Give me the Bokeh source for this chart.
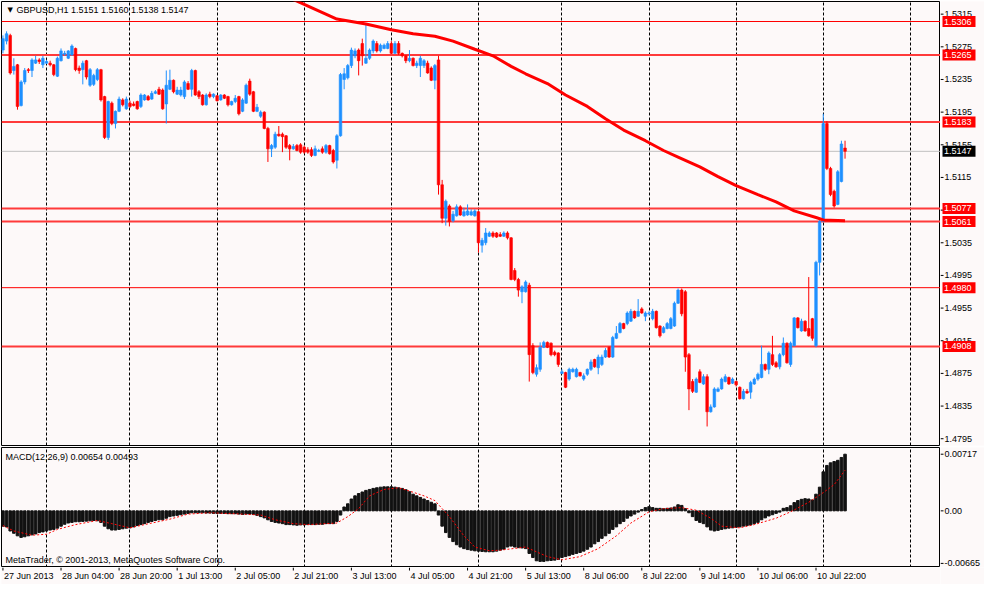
from bokeh.plotting import figure
from bokeh.layouts import column, row
from bokeh.models import ColumnDataSource, FixedTicker, Span, Range1d, Grid, Label
from bokeh.core.properties import value
from bokeh.embed import file_html
from bokeh.resources import INLINE

FONT = "Liberation Sans"
BG = "#FDF9F9"

# ---------------- data (GBPUSD H1) ----------------
opens = [
 1.5271, 1.5282, 1.5289, 1.5246, 1.5253, 1.5203, 1.5232, 1.5247, 1.5246, 1.5255,
 1.5259, 1.5253, 1.5255, 1.5255, 1.5253, 1.5239, 1.5258, 1.5266, 1.5261, 1.5265,
 1.5273, 1.5249, 1.5247, 1.5258, 1.5228, 1.5229, 1.5235, 1.5247, 1.5214, 1.5164,
 1.5206, 1.5181, 1.5196, 1.5210, 1.5199, 1.5206, 1.5205, 1.5208, 1.5202, 1.5210,
 1.5214, 1.5211, 1.5218, 1.5223, 1.5222, 1.5205, 1.5223, 1.5234, 1.5217, 1.5216,
 1.5214, 1.5230, 1.5223, 1.5246, 1.5220, 1.5216, 1.5204, 1.5217, 1.5214, 1.5215,
 1.5210, 1.5216, 1.5214, 1.5204, 1.5208, 1.5214, 1.5196, 1.5206, 1.5233, 1.5220,
 1.5196, 1.5190, 1.5195, 1.5175, 1.5150, 1.5152, 1.5168, 1.5168, 1.5166, 1.5154,
 1.5150, 1.5154, 1.5155, 1.5152, 1.5149, 1.5149, 1.5142, 1.5147, 1.5150, 1.5146,
 1.5154, 1.5148, 1.5136, 1.5166, 1.5235, 1.5237, 1.5252, 1.5264, 1.5271, 1.5279,
 1.5255, 1.5261, 1.5270, 1.5279, 1.5270, 1.5273, 1.5273, 1.5279, 1.5267, 1.5279,
 1.5267, 1.5264, 1.5258, 1.5261, 1.5252, 1.5252, 1.5252, 1.5255, 1.5249, 1.5234,
 1.5259, 1.5106, 1.5065, 1.5080, 1.5062, 1.5068, 1.5079, 1.5068, 1.5069, 1.5069,
 1.5068, 1.5073, 1.5032, 1.5035, 1.5043, 1.5047, 1.5047, 1.5045, 1.5043, 1.5047,
 1.5041, 1.5001, 1.4990, 1.4975, 1.4975, 1.4983, 1.4909, 1.4874, 1.4880, 1.4907,
 1.4913, 1.4912, 1.4901, 1.4900, 1.4875, 1.4876, 1.4868, 1.4877, 1.4871, 1.4876,
 1.4868, 1.4874, 1.4880, 1.4892, 1.4882, 1.4886, 1.4895, 1.4907, 1.4895, 1.4918,
 1.4925, 1.4936, 1.4936, 1.4939, 1.4951, 1.4945, 1.4954, 1.4945, 1.4948, 1.4942,
 1.4951, 1.4933, 1.4925, 1.4930, 1.4930, 1.4933, 1.4961, 1.4977, 1.4975, 1.4898,
 1.4865, 1.4852, 1.4877, 1.4862, 1.4871, 1.4828, 1.4834, 1.4853, 1.4856, 1.4865,
 1.4870, 1.4863, 1.4865, 1.4858, 1.4844, 1.4853, 1.4852, 1.4862, 1.4868, 1.4870,
 1.4886, 1.4880, 1.4898, 1.4888, 1.4883, 1.4898, 1.4912, 1.4886, 1.4909, 1.4943,
 1.4927, 1.4939, 1.4930, 1.4942, 1.4909, 1.5011, 1.5061, 1.5181, 1.5126, 1.5098,
 1.5082, 1.5110, 1.5151]

highs = [
 1.5289, 1.5294, 1.5291, 1.5261, 1.5254, 1.5234, 1.5249, 1.5249, 1.5261, 1.5264,
 1.5261, 1.5264, 1.5259, 1.5258, 1.5254, 1.5263, 1.5273, 1.5270, 1.5271, 1.5278,
 1.5274, 1.5252, 1.5258, 1.5259, 1.5249, 1.5242, 1.5249, 1.5248, 1.5215, 1.5209,
 1.5208, 1.5197, 1.5214, 1.5212, 1.5214, 1.5209, 1.5208, 1.5209, 1.5218, 1.5217,
 1.5216, 1.5221, 1.5222, 1.5226, 1.5224, 1.5246, 1.5247, 1.5235, 1.5226, 1.5226,
 1.5234, 1.5233, 1.5248, 1.5247, 1.5222, 1.5217, 1.5218, 1.5220, 1.5218, 1.5216,
 1.5217, 1.5217, 1.5215, 1.5209, 1.5216, 1.5215, 1.5212, 1.5230, 1.5236, 1.5221,
 1.5205, 1.5197, 1.5196, 1.5177, 1.5156, 1.5171, 1.5178, 1.5170, 1.5167, 1.5156,
 1.5156, 1.5156, 1.5157, 1.5154, 1.5152, 1.5152, 1.5154, 1.5150, 1.5153, 1.5156,
 1.5155, 1.5150, 1.5168, 1.5243, 1.5249, 1.5254, 1.5274, 1.5273, 1.5273, 1.5285,
 1.5303, 1.5273, 1.5284, 1.5282, 1.5279, 1.5279, 1.5282, 1.5282, 1.5282, 1.5282,
 1.5268, 1.5265, 1.5271, 1.5262, 1.5258, 1.5264, 1.5260, 1.5258, 1.5251, 1.5254,
 1.5264, 1.5112, 1.5088, 1.5082, 1.5074, 1.5082, 1.5081, 1.5078, 1.5082, 1.5076,
 1.5076, 1.5074, 1.5041, 1.5053, 1.5049, 1.5049, 1.5048, 1.5048, 1.5049, 1.5049,
 1.5042, 1.5004, 1.4992, 1.4983, 1.4989, 1.4986, 1.4912, 1.4886, 1.4913, 1.4915,
 1.4914, 1.4913, 1.4903, 1.4901, 1.4880, 1.4877, 1.4882, 1.4882, 1.4882, 1.4877,
 1.4875, 1.4881, 1.4892, 1.4893, 1.4898, 1.4898, 1.4906, 1.4908, 1.4921, 1.4933,
 1.4938, 1.4937, 1.4951, 1.4954, 1.4952, 1.4966, 1.4956, 1.4951, 1.4951, 1.4954,
 1.4952, 1.4934, 1.4933, 1.4938, 1.4944, 1.4963, 1.4979, 1.4979, 1.4977, 1.4900,
 1.4868, 1.4870, 1.4880, 1.4874, 1.4874, 1.4837, 1.4858, 1.4858, 1.4870, 1.4874,
 1.4871, 1.4870, 1.4866, 1.4859, 1.4856, 1.4856, 1.4866, 1.4870, 1.4876, 1.4909,
 1.4887, 1.4902, 1.4921, 1.4890, 1.4900, 1.4919, 1.4913, 1.4914, 1.4944, 1.4944,
 1.4942, 1.4940, 1.4993, 1.4943, 1.5013, 1.5063, 1.5193, 1.5184, 1.5128, 1.5100,
 1.5124, 1.5160, 1.5160]

lows = [
 1.5267, 1.5278, 1.5241, 1.5241, 1.5198, 1.5202, 1.5229, 1.5243, 1.5238, 1.5254,
 1.5254, 1.5249, 1.5254, 1.5251, 1.5239, 1.5238, 1.5257, 1.5264, 1.5260, 1.5264,
 1.5245, 1.5242, 1.5229, 1.5235, 1.5226, 1.5227, 1.5233, 1.5208, 1.5162, 1.5161,
 1.5179, 1.5175, 1.5195, 1.5202, 1.5198, 1.5200, 1.5202, 1.5198, 1.5200, 1.5209,
 1.5209, 1.5210, 1.5217, 1.5216, 1.5198, 1.5181, 1.5222, 1.5218, 1.5216, 1.5214,
 1.5211, 1.5222, 1.5214, 1.5215, 1.5211, 1.5203, 1.5203, 1.5212, 1.5212, 1.5208,
 1.5209, 1.5211, 1.5202, 1.5203, 1.5206, 1.5191, 1.5195, 1.5205, 1.5215, 1.5195,
 1.5195, 1.5188, 1.5174, 1.5134, 1.5140, 1.5150, 1.5165, 1.5146, 1.5150, 1.5136,
 1.5149, 1.5147, 1.5144, 1.5144, 1.5144, 1.5140, 1.5141, 1.5146, 1.5144, 1.5144,
 1.5143, 1.5132, 1.5126, 1.5165, 1.5223, 1.5235, 1.5249, 1.5261, 1.5240, 1.5252,
 1.5254, 1.5259, 1.5267, 1.5268, 1.5268, 1.5272, 1.5272, 1.5266, 1.5266, 1.5265,
 1.5262, 1.5255, 1.5256, 1.5251, 1.5249, 1.5238, 1.5249, 1.5242, 1.5233, 1.5223,
 1.5094, 1.5059, 1.5056, 1.5055, 1.5060, 1.5067, 1.5068, 1.5067, 1.5068, 1.5068,
 1.5067, 1.5023, 1.5023, 1.5032, 1.5042, 1.5041, 1.5041, 1.5042, 1.5042, 1.5039,
 1.4989, 1.4988, 1.4969, 1.4961, 1.4974, 1.4865, 1.4874, 1.4871, 1.4877, 1.4906,
 1.4906, 1.4896, 1.4896, 1.4883, 1.4874, 1.4857, 1.4866, 1.4876, 1.4870, 1.4871,
 1.4866, 1.4872, 1.4878, 1.4882, 1.4874, 1.4884, 1.4894, 1.4894, 1.4894, 1.4917,
 1.4924, 1.4929, 1.4934, 1.4938, 1.4942, 1.4944, 1.4948, 1.4939, 1.4946, 1.4940,
 1.4930, 1.4919, 1.4924, 1.4929, 1.4929, 1.4932, 1.4960, 1.4945, 1.4877, 1.4830,
 1.4851, 1.4851, 1.4863, 1.4861, 1.4810, 1.4827, 1.4833, 1.4852, 1.4855, 1.4864,
 1.4861, 1.4862, 1.4859, 1.4843, 1.4843, 1.4850, 1.4844, 1.4861, 1.4866, 1.4869,
 1.4878, 1.4874, 1.4884, 1.4882, 1.4880, 1.4896, 1.4887, 1.4883, 1.4908, 1.4930,
 1.4926, 1.4926, 1.4920, 1.4915, 1.4907, 1.4995, 1.5060, 1.5124, 1.5092, 1.5078,
 1.5081, 1.5109, 1.5138]

closes = [
 1.5285, 1.5291, 1.5243, 1.5251, 1.5202, 1.5232, 1.5246, 1.5246, 1.5259, 1.5259,
 1.5257, 1.5261, 1.5257, 1.5253, 1.5241, 1.5261, 1.5270, 1.5267, 1.5270, 1.5276,
 1.5247, 1.5246, 1.5255, 1.5238, 1.5247, 1.5240, 1.5247, 1.5210, 1.5164, 1.5208,
 1.5181, 1.5196, 1.5211, 1.5204, 1.5211, 1.5202, 1.5203, 1.5199, 1.5216, 1.5216,
 1.5210, 1.5218, 1.5220, 1.5217, 1.5199, 1.5228, 1.5234, 1.5220, 1.5222, 1.5222,
 1.5232, 1.5223, 1.5246, 1.5216, 1.5214, 1.5204, 1.5216, 1.5214, 1.5217, 1.5209,
 1.5216, 1.5212, 1.5204, 1.5208, 1.5212, 1.5193, 1.5210, 1.5228, 1.5217, 1.5196,
 1.5201, 1.5195, 1.5175, 1.5150, 1.5154, 1.5168, 1.5166, 1.5165, 1.5152, 1.5150,
 1.5153, 1.5148, 1.5146, 1.5146, 1.5146, 1.5142, 1.5150, 1.5148, 1.5146, 1.5154,
 1.5144, 1.5134, 1.5166, 1.5241, 1.5242, 1.5252, 1.5271, 1.5270, 1.5258, 1.5264,
 1.5261, 1.5271, 1.5282, 1.5270, 1.5277, 1.5277, 1.5279, 1.5267, 1.5279, 1.5267,
 1.5264, 1.5258, 1.5261, 1.5252, 1.5255, 1.5261, 1.5258, 1.5243, 1.5234, 1.5252,
 1.5106, 1.5065, 1.5086, 1.5061, 1.5070, 1.5079, 1.5069, 1.5073, 1.5074, 1.5073,
 1.5074, 1.5035, 1.5038, 1.5047, 1.5047, 1.5043, 1.5042, 1.5043, 1.5047, 1.5041,
 1.4990, 1.4990, 1.4977, 1.4981, 1.4987, 1.4898, 1.4876, 1.4882, 1.4907, 1.4913,
 1.4907, 1.4898, 1.4898, 1.4886, 1.4877, 1.4858, 1.4880, 1.4880, 1.4880, 1.4872,
 1.4872, 1.4880, 1.4889, 1.4883, 1.4895, 1.4895, 1.4903, 1.4895, 1.4919, 1.4924,
 1.4936, 1.4930, 1.4949, 1.4951, 1.4943, 1.4951, 1.4949, 1.4949, 1.4949, 1.4951,
 1.4931, 1.4921, 1.4931, 1.4936, 1.4942, 1.4961, 1.4977, 1.4948, 1.4895, 1.4856,
 1.4853, 1.4868, 1.4864, 1.4871, 1.4828, 1.4834, 1.4856, 1.4856, 1.4868, 1.4871,
 1.4862, 1.4868, 1.4861, 1.4844, 1.4853, 1.4851, 1.4864, 1.4868, 1.4874, 1.4886,
 1.4880, 1.4900, 1.4886, 1.4883, 1.4898, 1.4912, 1.4888, 1.4912, 1.4943, 1.4931,
 1.4939, 1.4927, 1.4921, 1.4918, 1.5011, 1.5061, 1.5181, 1.5126, 1.5094, 1.5080,
 1.5122, 1.5156, 1.5147]

# moving average (red curve), read at a set of bars
ma_bars = [78, 81, 92, 100, 107, 113, 119, 124, 130, 135, 140, 144, 150, 155, 161,
           166, 171, 177, 182, 186, 192, 197, 202, 208, 213, 218, 224, 226, 232]
ma_vals = [1.5336, 1.5331, 1.5309, 1.5303, 1.5296, 1.5291, 1.5288, 1.5282, 1.5272,
           1.5264, 1.5251, 1.5242, 1.5230, 1.5216, 1.5202, 1.5187, 1.5173, 1.5160,
           1.5148, 1.5140, 1.5128, 1.5116, 1.5105, 1.5094, 1.5085, 1.5074, 1.5066,
           1.5063, 1.5062]

# MACD(12,26,9) main values (histogram), one per bar
macd_main = [
 -0.00194, -0.00203, -0.00255, -0.00284, -0.00316, -0.00336, -0.00328, -0.00316, -0.00304, -0.00292,
 -0.00275, -0.00267, -0.00255, -0.00243, -0.00235, -0.00219, -0.00194, -0.00170, -0.00154, -0.00146,
 -0.00138, -0.00138, -0.00134, -0.00130, -0.00126, -0.00122, -0.00126, -0.00146, -0.00194, -0.00227,
 -0.00243, -0.00243, -0.00235, -0.00227, -0.00219, -0.00215, -0.00203, -0.00186, -0.00174, -0.00162,
 -0.00146, -0.00134, -0.00122, -0.00113, -0.00113, -0.00093, -0.00073, -0.00065, -0.00057, -0.00049,
 -0.00041, -0.00032, -0.00024, -0.00024, -0.00024, -0.00024, -0.00028, -0.00028, -0.00032, -0.00032,
 -0.00032, -0.00032, -0.00036, -0.00036, -0.00036, -0.00041, -0.00045, -0.00041, -0.00041, -0.00045,
 -0.00057, -0.00073, -0.00089, -0.00113, -0.00134, -0.00146, -0.00154, -0.00162, -0.00174, -0.00174,
 -0.00178, -0.00182, -0.00178, -0.00178, -0.00174, -0.00174, -0.00174, -0.00170, -0.00170, -0.00162,
 -0.00162, -0.00162, -0.00134, -0.00053, 0.00049, 0.00089, 0.00150, 0.00190, 0.00219, 0.00239,
 0.00259, 0.00271, 0.00284, 0.00292, 0.00300, 0.00304, 0.00304, 0.00304, 0.00300, 0.00292,
 0.00284, 0.00267, 0.00243, 0.00211, 0.00190, 0.00170, 0.00150, 0.00130, 0.00109, 0.00089,
 -0.00053, -0.00194, -0.00275, -0.00336, -0.00389, -0.00429, -0.00458, -0.00478, -0.00490, -0.00498,
 -0.00506, -0.00510, -0.00514, -0.00518, -0.00518, -0.00518, -0.00510, -0.00498, -0.00486, -0.00458,
 -0.00446, -0.00458, -0.00466, -0.00470, -0.00478, -0.00539, -0.00591, -0.00632, -0.00640, -0.00640,
 -0.00632, -0.00628, -0.00624, -0.00616, -0.00591, -0.00579, -0.00567, -0.00551, -0.00539, -0.00527,
 -0.00510, -0.00486, -0.00458, -0.00417, -0.00389, -0.00348, -0.00316, -0.00284, -0.00235, -0.00203,
 -0.00162, -0.00134, -0.00093, -0.00065, -0.00041, -0.00016, 0.00016, 0.00041, 0.00053, 0.00041,
 0.00032, 0.00032, 0.00028, 0.00032, 0.00036, 0.00049, 0.00077, 0.00069, 0.00028, -0.00024,
 -0.00073, -0.00122, -0.00146, -0.00162, -0.00203, -0.00243, -0.00255, -0.00247, -0.00235, -0.00227,
 -0.00219, -0.00215, -0.00207, -0.00203, -0.00194, -0.00186, -0.00178, -0.00162, -0.00146, -0.00113,
 -0.00089, -0.00065, -0.00049, -0.00032, -0.00016, 0.00032, 0.00041, 0.00065, 0.00105, 0.00130,
 0.00146, 0.00154, 0.00150, 0.00138, 0.00211, 0.00300, 0.00494, 0.00575, 0.00608, 0.00624,
 0.00640, 0.00676, 0.00717]

# MACD signal line, read at a set of bars
sig_bars = [0, 3, 8, 12, 15, 20, 26, 30, 35, 39, 46, 51, 57, 66, 71, 75, 80, 84, 92, 95,
            98, 101, 105, 109, 112, 116, 119, 123, 127, 130, 134, 137, 144, 150, 154, 159,
            164, 169, 173, 178, 182, 187, 191, 195, 198, 203, 207, 213, 217, 222, 226, 229, 232]
sig_vals = [-0.00186, -0.00255, -0.00308, -0.00296, -0.00235, -0.00174, -0.00122, -0.00162,
            -0.00215, -0.00174, -0.00105, -0.00041, -0.00024, -0.00041, -0.00053, -0.00113,
            -0.00162, -0.00174, -0.00154, -0.00073, 0.00028, 0.00190, 0.00271, 0.00292,
            0.00251, 0.00190, 0.00130, -0.00073, -0.00316, -0.00458, -0.00505, -0.00498,
            -0.00458, -0.00579, -0.00620, -0.00579, -0.00478, -0.00316, -0.00154, -0.00012,
            0.00028, 0.00041, 0.00008, -0.00093, -0.00194, -0.00215, -0.00174, -0.00093,
            -0.00012, 0.00109, 0.00231, 0.00332, 0.00514]

# horizontal price levels drawn on the chart
levels = [1.5306, 1.5265, 1.5183, 1.5077, 1.5061, 1.4980, 1.4908]
level_thick = [False, True, True, True, True, False, True]
last_price = 1.5147

price_ticks = [1.5315, 1.5275, 1.5235, 1.5195, 1.5155, 1.5115, 1.5075, 1.5035,
               1.4995, 1.4955, 1.4915, 1.4875, 1.4835, 1.4795]
macd_ticks = [0.00717, 0.0, -0.00665]
macd_tick_labels = ["0.00717", "0.00", "-0.00665"]

time_bars = [0, 16, 32, 48, 64, 80, 96, 112, 128, 144, 160, 176, 192, 208, 224]
time_labels = ["27 Jun 2013", "28 Jun 04:00", "28 Jun 20:00", "1 Jul 13:00", "2 Jul 05:00",
               "2 Jul 21:00", "3 Jul 13:00", "4 Jul 05:00", "4 Jul 21:00", "5 Jul 13:00",
               "8 Jul 06:00", "8 Jul 22:00", "9 Jul 14:00", "10 Jul 06:00", "10 Jul 22:00"]
grid_bars = [12, 35, 59, 83, 107, 131, 154, 178, 202, 226, 250]

title_text = "GBPUSD,H1  1.5151 1.5160 1.5138 1.5147"
macd_text = "MACD(12,26,9) 0.00654 0.00493"
copyright_text = "MetaTrader, \u00a9 2001-2013, MetaQuotes Software Corp."

n = len(closes)
assert len(opens) == n and len(highs) == n and len(lows) == n and len(macd_main) == n

# ---------------- layout constants ----------------
X0, X1 = -0.4, 258.3
P_LO, P_HI = 1.47867, 1.53305
M_LO, M_HI = -0.00717, 0.00802
PW, AW = 940, 44          # chart width, price-scale width
MAIN_H, MACD_H, TIME_H = 446, 121, 17

xr = Range1d(X0, X1)
yr_p = Range1d(P_LO, P_HI)
yr_m = Range1d(M_LO, M_HI)


def base_fig(width, height, x_range, y_range, **kw):
    f = figure(width=width, height=height, x_range=x_range, y_range=y_range,
               x_axis_location=None, y_axis_location=None,
               output_backend="svg", toolbar_location=None,
               background_fill_color=BG, border_fill_color=BG, **kw)
    for g in f.grid:
        g.visible = False
    return f


def chart_fig(height, y_range, top, bottom):
    f = base_fig(PW, height, xr, y_range, min_border_left=1, min_border_right=0,
                 min_border_top=top, min_border_bottom=bottom,
                 outline_line_color="black", outline_line_width=1)
    f.add_layout(Grid(dimension=0, ticker=FixedTicker(ticks=grid_bars),
                      grid_line_color="black", grid_line_dash="3 2", grid_line_width=1))
    return f


def scale_fig(height, y_range, top, bottom, ticks, labels):
    f = base_fig(AW, height, Range1d(0, AW), y_range, min_border_left=0,
                 min_border_right=0, min_border_top=top, min_border_bottom=bottom,
                 outline_line_color=None)
    f.segment(x0=[0] * len(ticks), y0=ticks, x1=[3] * len(ticks), y1=ticks,
              line_color="black", line_width=1)
    f.text(x=[4] * len(ticks), y=ticks, text=labels, text_baseline="middle",
           text_align="left", text_font=value(FONT), text_font_size="9px",
           text_color="black")
    return f


# ---------------- price panel ----------------
p = chart_fig(MAIN_H, yr_p, 1, 1)
colors = ["#1E90FF" if c >= o else "#FF0000" for o, c in zip(opens, closes)]
src = ColumnDataSource(dict(
    x=list(range(n)), h=highs, l=lows,
    top=[max(o, c) for o, c in zip(opens, closes)],
    bottom=[min(o, c) for o, c in zip(opens, closes)],
    color=colors))

for lv, thick in zip(levels, level_thick):
    p.add_layout(Span(location=lv, dimension="width", level="underlay",
                      line_color="#FF3A3A" if thick else "#FF0000",
                      line_width=2 if thick else 1))
p.add_layout(Span(location=last_price, dimension="width", level="underlay",
                  line_color="#C0C0C0", line_width=1))

p.segment(x0="x", y0="h", x1="x", y1="l", color="color", line_width=1, source=src)
p.vbar(x="x", width=0.72, top="top", bottom="bottom", fill_color="color",
       line_color="color", line_width=0.6, source=src)
p.line(ma_bars, ma_vals, color="#FF0000", line_width=3)

p.add_layout(Label(x=X0, y=P_HI, x_offset=6, y_offset=-4, text="\u25bc",
                   text_baseline="top", text_font="DejaVu Sans", text_font_size="7px",
                   text_color="black"))
p.add_layout(Label(x=X0, y=P_HI, x_offset=15, y_offset=-3, text=title_text,
                   text_baseline="top", text_font=FONT, text_font_size="9px",
                   text_color="black"))

pa = scale_fig(MAIN_H, yr_p, 1, 1, price_ticks, [f"{t:.4f}" for t in price_ticks])
box_vals = levels + [last_price]
box_cols = ["#FF0000"] * len(levels) + ["#000000"]
pa.rect(x=[18.5] * len(box_vals), y=box_vals, width=33, height=11, height_units="screen",
        fill_color=box_cols, line_color=None)
pa.text(x=[3.5] * len(box_vals), y=box_vals, text=[f"{v:.4f}" for v in box_vals],
        text_baseline="middle", text_align="left", text_font=value(FONT),
        text_font_size="9px", text_color="white")

# ---------------- MACD panel ----------------
q = chart_fig(MACD_H, yr_m, 1, 0)
q.vbar(x=list(range(n)), top=macd_main, bottom=0, width=0.7, color="#111111")
q.line(sig_bars, sig_vals, color="#FF0000", line_width=1, line_dash="2 2")
q.add_layout(Label(x=X0, y=M_HI, x_offset=4, y_offset=-4, text=macd_text,
                   text_baseline="top", text_font=FONT, text_font_size="9px",
                   text_color="black"))
q.add_layout(Label(x=X0, y=M_LO, x_offset=4, y_offset=3, text=copyright_text,
                   text_baseline="bottom", text_font=FONT, text_font_size="9px",
                   text_color="black"))
qa = scale_fig(MACD_H, yr_m, 1, 0, macd_ticks, macd_tick_labels)

# ---------------- time scale ----------------
t = base_fig(PW, TIME_H, xr, Range1d(0, TIME_H), min_border_left=1, min_border_right=0,
             min_border_top=0, min_border_bottom=0, outline_line_color=None)
t.segment(x0=time_bars, y0=[TIME_H] * len(time_bars), x1=time_bars,
          y1=[TIME_H - 3] * len(time_bars), line_color="black", line_width=1)
t.text(x=time_bars, y=[TIME_H - 3] * len(time_bars), text=time_labels, x_offset=1,
       text_baseline="top", text_align="left", text_font=value(FONT),
       text_font_size="9px", text_color="black")
ta = base_fig(AW, TIME_H, Range1d(0, 1), Range1d(0, 1), min_border_left=0,
              min_border_right=0, min_border_top=0, min_border_bottom=0,
              outline_line_color=None)

layout = column(row(p, pa, spacing=0), row(q, qa, spacing=0), row(t, ta, spacing=0),
                spacing=0)
open("out.html", "w").write(file_html(layout, INLINE))
